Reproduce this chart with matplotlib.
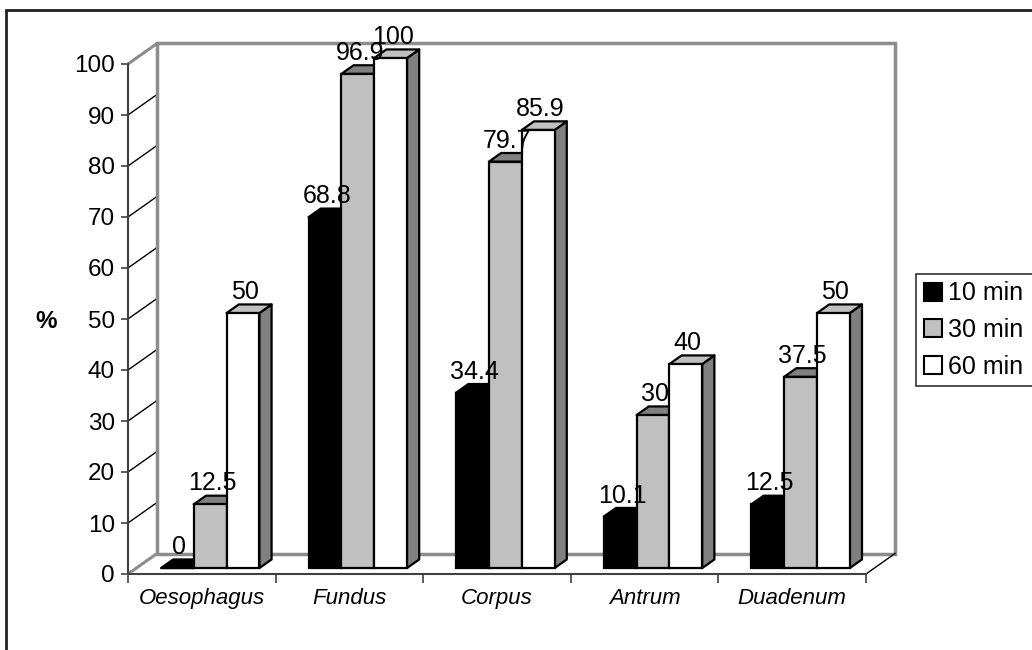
import matplotlib.pyplot as plt
from matplotlib.patches import Polygon, Rectangle, Patch

plt.rcParams['font.family'] = ['Liberation Sans', 'DejaVu Sans']

# data
categories = ["Oesophagus", "Fundus", "Corpus", "Antrum", "Duadenum"]
series_names = ["10 min", "30 min", "60 min"]
values = {
    "10 min": [0, 68.8, 34.4, 10.1, 12.5],
    "30 min": [12.5, 96.9, 79.7, 30, 37.5],
    "60 min": [50, 100, 85.9, 40, 50],
}
y_ticks = list(range(0, 101, 10))

# face colours per series: front, top, side
faces = {
    "10 min": ("#000000", "#000000", "#000000"),
    "30 min": ("#C0C0C0", "#808080", "#808080"),
    "60 min": ("#FFFFFF", "#C0C0C0", "#808080"),
}

W, H = 1032, 650
fig = plt.figure(figsize=(W / 100, H / 100), dpi=100)
fig.patch.set_facecolor("white")

# front plane of the plot area, in pixels
left_px, right_px, bot_px, top_px = 128, 866, 574, 64
ax = fig.add_axes([left_px / W, 1 - bot_px / H,
                   (right_px - left_px) / W, (bot_px - top_px) / H])
ncat = len(categories)
ax.set_xlim(0, ncat)
ax.set_ylim(0, 100)
ax.set_facecolor("none")

# pixel -> data unit conversion for the oblique depth
px_x = (right_px - left_px) / ncat
px_y = (bot_px - top_px) / 100.0
DEPTH_PX = (29, 20.5)


def depth(f):
    return DEPTH_PX[0] * f / px_x, DEPTH_PX[1] * f / px_y


DX, DY = depth(1.0)
wall_gray = "#8C8C8C"

# walls and floor
ax.add_patch(Polygon([(0, 0), (0, 100), (DX, 100 + DY), (DX, DY)],
                     closed=True, fc="white", ec="none", clip_on=False, zorder=1))
ax.add_patch(Polygon([(0, 0), (ncat, 0), (ncat + DX, DY), (DX, DY)],
                     closed=True, fc="white", ec="none", clip_on=False, zorder=1))
ax.add_patch(Rectangle((DX, DY), ncat, 100, fc="white", ec=wall_gray,
                       lw=2.5, clip_on=False, zorder=1.5))

for v in y_ticks[1:-1]:
    ax.plot([0, DX, ncat + DX], [v, v + DY, v + DY], color="black",
            lw=1, clip_on=False, zorder=1.2)
for v in (0, 100):
    ax.plot([0, DX], [v, v + DY], color=wall_gray, lw=2.2,
            clip_on=False, zorder=1.6)
ax.plot([ncat, ncat + DX], [0, DY], color="black", lw=1,
        clip_on=False, zorder=1.6)

# bars
nser = len(series_names)
gap = 1.5
bw = 1.0 / (nser + gap)
fdx, fdy = depth(0.29)
bdx, bdy = depth(0.42)
for i in range(ncat):
    for j, name in enumerate(series_names):
        v = values[name][i]
        front_c, top_c, side_c = faces[name]
        x0 = i + bw * gap / 2 + j * bw + fdx
        x1 = x0 + bw
        y0, y1 = fdy, v + fdy
        z = 3 + i * 0.1 + j * 0.01
        side = [(x1, y0), (x1 + bdx, y0 + bdy), (x1 + bdx, y1 + bdy), (x1, y1)]
        top = [(x0, y1), (x0 + bdx, y1 + bdy), (x1 + bdx, y1 + bdy), (x1, y1)]
        ax.add_patch(Polygon(side, closed=True, fc=side_c, ec="black",
                             lw=1.6, joinstyle="round", clip_on=False, zorder=z))
        ax.add_patch(Polygon(top, closed=True, fc=top_c, ec="black",
                             lw=1.6, joinstyle="round", clip_on=False, zorder=z))
        ax.add_patch(Rectangle((x0, y0), bw, v, fc=front_c, ec="black",
                               lw=1.6, clip_on=False, zorder=z + 0.001))
        ax.text(x0 + bw / 2 + 2 / px_x, y1 + 14 / px_y, f"{v:g}",
                ha="center", va="baseline", fontsize=18, zorder=10)

# front axes
for s in ("top", "right"):
    ax.spines[s].set_visible(False)
for s in ("left", "bottom"):
    ax.spines[s].set_color("#404040")
    ax.spines[s].set_linewidth(1.5)
    ax.spines[s].set_zorder(6)

ax.set_yticks(y_ticks)
ax.set_yticklabels([str(t) for t in y_ticks])
ax.tick_params(axis="y", direction="out", length=5, width=1.2,
               color="#404040", pad=4.3, labelsize=17.5)
ax.set_xticks(range(ncat + 1))
ax.set_xticklabels([])
ax.tick_params(axis="x", which="major", direction="out", length=6.5,
               width=1.2, color="#404040")
ax.set_xticks([i + 0.5 for i in range(ncat)], minor=True)
ax.set_xticklabels(categories, minor=True, fontstyle="italic", fontsize=16)
ax.tick_params(axis="x", which="minor", length=0, pad=10)

fig.text(46 / W, 1 - 322 / H, "%", ha="center", va="center",
         fontsize=17.5, fontweight="bold")

# legend box runs past the right edge of the figure
handles = [Patch(fc=faces[n][0], ec="black", lw=1.5) for n in series_names]
leg = fig.legend(handles, series_names, loc="upper left",
                 bbox_to_anchor=(916 / W, 1 - 274 / H, 140 / W, 0),
                 mode="expand", fontsize=18,
                 frameon=True, fancybox=False, borderpad=0.3,
                 handlelength=0.75, handleheight=0.75, handletextpad=0.25,
                 labelspacing=0.5, borderaxespad=0)
leg.get_frame().set_edgecolor("black")
leg.get_frame().set_linewidth(1.2)

# chart area border
fig.patches.append(Rectangle((6 / W, -0.1), 1.2, 1 - 10 / H + 0.1,
                             transform=fig.transFigure, fill=False,
                             ec="#222222", lw=2, zorder=0))

fig.savefig("out.png", dpi=100)
